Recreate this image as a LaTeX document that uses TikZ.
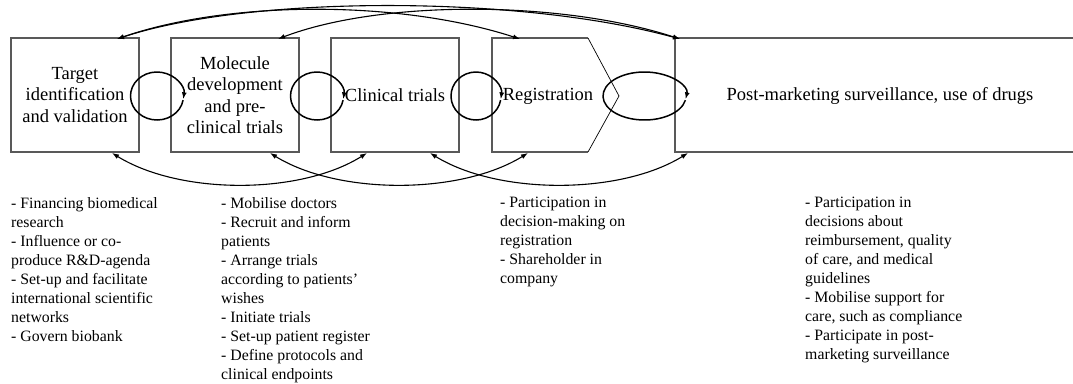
\documentclass[tikz,border=0pt]{standalone}
\usepackage{fontspec}
\setmainfont{Liberation Serif}
\usetikzlibrary{arrows.meta}
\begin{document}
\begin{tikzpicture}[x=1pt,y=-1pt,
  boxline/.style={draw=gray!70!black, line width=1.1pt},
  tipline/.style={draw=black, line width=0.7pt},
  boxtext/.style={font=\fontsize{18.5}{21.5}\selectfont, align=center, inner sep=0pt},
  listtext/.style={font=\fontsize{15.8}{19}\selectfont, align=left, anchor=north west, inner sep=0pt},
  conn/.style={line width=1.1pt, {Latex[length=7pt,width=5pt]}-{Latex[length=7pt,width=5pt]}},
  cycleloop/.style={line width=1.5pt, -{Latex[length=7pt,width=5pt]}}
]
\useasboundingbox (0,0) rectangle (1073,383);
% boxes
\node[boxline, minimum width=128pt, minimum height=114pt, boxtext] (b1) at (75,95) {Target\\identification\\and validation};
\node[boxline, minimum width=128pt, minimum height=114pt, boxtext] (b2) at (235,95) {Molecule\\development\\and pre-\\clinical trials};
\node[boxline, minimum width=128pt, minimum height=114pt, boxtext] (b3) at (395,95) {Clinical trials};
\node[boxtext] (b4) at (548,96) {Registration};
\node[boxtext] (b5) at (880,96) {Post-marketing surveillance, use of drugs};
% registration shape
\coordinate (r1) at (588,38);
\coordinate (r2) at (492,38);
\coordinate (r3) at (492,152);
\coordinate (r4) at (588,152);
\coordinate (r5) at (619,96);
\draw[boxline] (r1) -- (r2) -- (r3) -- (r4);
\draw[tipline] (r1) -- (r5) -- (r4);
% post-marketing shape
\coordinate (p1) at (1073,38);
\coordinate (p2) at (675,38);
\coordinate (p3) at (675,152);
\coordinate (p4) at (1073,152);
\draw[boxline] (p1) -- (p2) -- (p3) -- (p4);
% loops
\draw[cycleloop] (157,96) ++(10:26.5 and 24) arc[start angle=10, end angle=368, x radius=26.5, y radius=24];
\draw[cycleloop] (317,96) ++(10:26.5 and 24) arc[start angle=10, end angle=368, x radius=26.5, y radius=24];
\draw[cycleloop] (476,96) ++(10:25 and 24) arc[start angle=10, end angle=368, x radius=25, y radius=24];
\draw[cycleloop] (644.5,96) ++(10:41.5 and 24) arc[start angle=10, end angle=368, x radius=41.5, y radius=24];
% connector end points
\coordinate (b1t) at (117,39);
\coordinate (b2t) at (278,39);
\coordinate (b4t) at (520,39);
\coordinate (b5t) at (680,39);
\coordinate (b1b) at (112,153);
\coordinate (b2b) at (270,153);
\coordinate (b3bl) at (367,153);
\coordinate (b3br) at (430,153);
\coordinate (b4b) at (528,153);
\coordinate (b5b) at (688,153);
% top connectors
\draw[conn] (b1t) .. controls (250,-5) and (520,-5) .. (b5t);
\draw[conn] (b1t) .. controls (230,0) and (400,0) .. (b4t);
\draw[conn] (b2t) .. controls (380,0) and (560,0) .. (b5t);
% bottom connectors
\draw[conn] (b1b) .. controls (180,195) and (300,195) .. (b3bl);
\draw[conn] (b2b) .. controls (338,195) and (460,195) .. (b4b);
\draw[conn] (b3br) .. controls (498,195) and (620,195) .. (b5b);
% lists
\node[listtext] (l1) at (11,197) {- Financing biomedical\\research\\- Influence or co-\\produce R\&D-agenda\\- Set-up and facilitate\\international scientific\\networks\\- Govern biobank};
\node[listtext] (l2) at (221,197) {- Mobilise doctors\\- Recruit and inform\\patients\\- Arrange trials\\according to patients'\\wishes\\- Initiate trials\\- Set-up patient register\\- Define protocols and\\clinical endpoints};
\node[listtext] (l3) at (500,197) {- Participation in\\decision-making on\\registration\\- Shareholder in\\company};
\node[listtext] (l4) at (805,197) {- Participation in\\decisions about\\reimbursement, quality\\of care, and medical\\guidelines\\- Mobilise support for\\care, such as compliance\\- Participate in post-\\marketing surveillance};
\end{tikzpicture}
\end{document}
